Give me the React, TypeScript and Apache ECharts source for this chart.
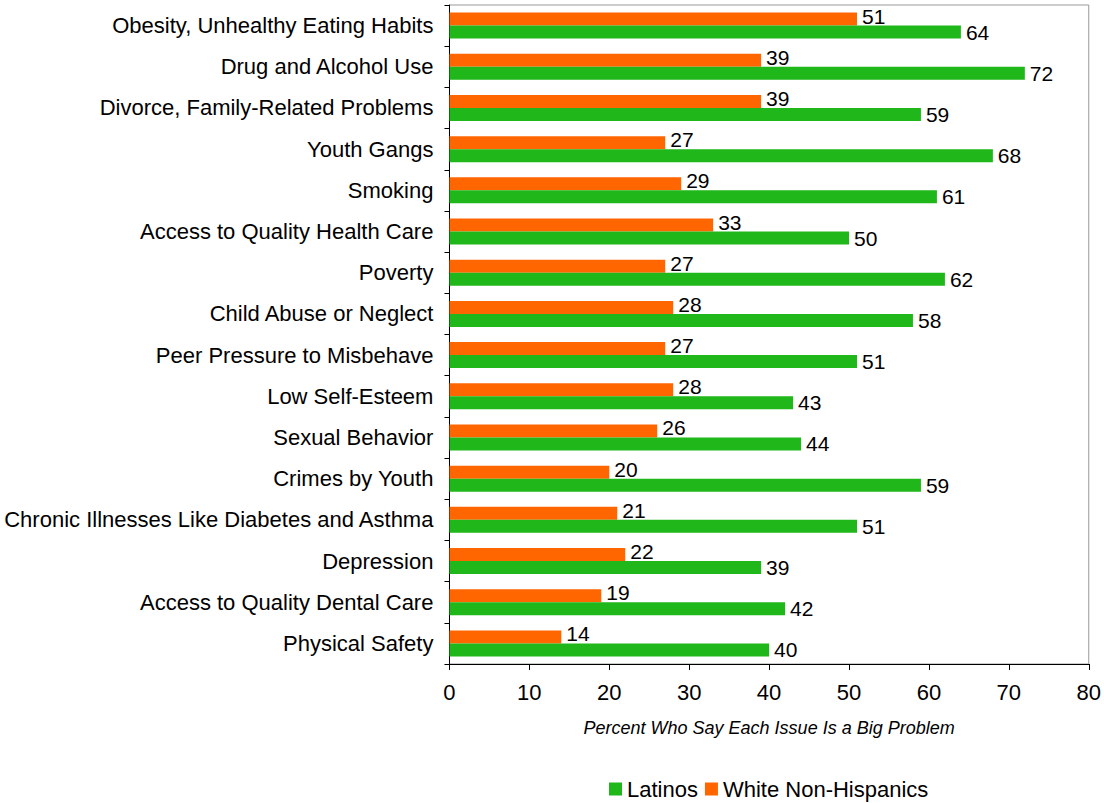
import React, { useEffect, useRef } from "react";
import * as echarts from "echarts";

const categories = [
  "Obesity, Unhealthy Eating Habits",
  "Drug and Alcohol Use",
  "Divorce, Family-Related Problems",
  "Youth Gangs",
  "Smoking",
  "Access to Quality Health Care",
  "Poverty",
  "Child Abuse or Neglect",
  "Peer Pressure to Misbehave",
  "Low Self-Esteem",
  "Sexual Behavior",
  "Crimes by Youth",
  "Chronic Illnesses Like Diabetes and Asthma",
  "Depression",
  "Access to Quality Dental Care",
  "Physical Safety",
];
const latinos = [64, 72, 59, 68, 61, 50, 62, 58, 51, 43, 44, 59, 51, 39, 42, 40];
const whites = [51, 39, 39, 27, 29, 33, 27, 28, 27, 28, 26, 20, 21, 22, 19, 14];

const FONT = "'Liberation Sans', Arial, sans-serif";

export default function App() {
  const ref = useRef<HTMLDivElement>(null);
  useEffect(() => {
    if (!ref.current) return;
    const chart = echarts.init(ref.current, null, { renderer: "svg" });
    const label = {
      show: true,
      position: "right" as const,
      color: "#000",
      fontSize: 21,
      fontFamily: FONT,
      distance: 5,
    };
    chart.setOption({
      animation: false,
      textStyle: { fontFamily: FONT },
      grid: {
        left: 449,
        right: 14,
        top: 5,
        bottom: 139,
        show: true,
        borderColor: "#999",
        borderWidth: 1,
      },
      legend: {
        data: ["Latinos", "White Non-Hispanics"],
        left: 604,
        top: 773,
        itemWidth: 13,
        itemHeight: 13,
        itemGap: 7,
        icon: "rect",
        textStyle: { fontSize: 22, color: "#000", fontFamily: FONT },
      },
      xAxis: {
        type: "value",
        min: 0,
        max: 80,
        interval: 10,
        axisLine: { show: true, lineStyle: { color: "#000" } },
        axisTick: { show: true, length: 6, inside: false, lineStyle: { color: "#000" } },
        splitLine: { show: false },
        axisLabel: { fontSize: 22, color: "#000", margin: 17, fontFamily: FONT },
        name: "Percent Who Say Each Issue Is a Big Problem",
        nameLocation: "middle",
        nameGap: 55,
        nameTextStyle: { fontSize: 18, fontStyle: "italic", color: "#000", fontFamily: FONT },
      },
      yAxis: {
        type: "category",
        data: categories,
        inverse: true,
        axisLine: { show: true, lineStyle: { color: "#000" } },
        axisTick: { show: true, length: 5, lineStyle: { color: "#000" } },
        axisLabel: { fontSize: 22, color: "#000", margin: 16, fontFamily: FONT, padding: [0, 0, 4, 0] },
      },
      series: [
        {
          name: "White Non-Hispanics",
          type: "bar",
          data: whites,
          itemStyle: { color: "#FF6600" },
          barWidth: 13,
          barGap: "0%",
          label: { ...label, offset: [0, -3] },
        },
        {
          name: "Latinos",
          type: "bar",
          data: latinos,
          itemStyle: { color: "#1FB71A" },
          barWidth: 13,
          barGap: "0%",
          label: { ...label, offset: [0, 0] },
        },
      ],
    });
    return () => chart.dispose();
  }, []);
  return <div ref={ref} style={{ width: 1104, height: 803, position: "absolute", left: 0, top: 0 }} />;
}
